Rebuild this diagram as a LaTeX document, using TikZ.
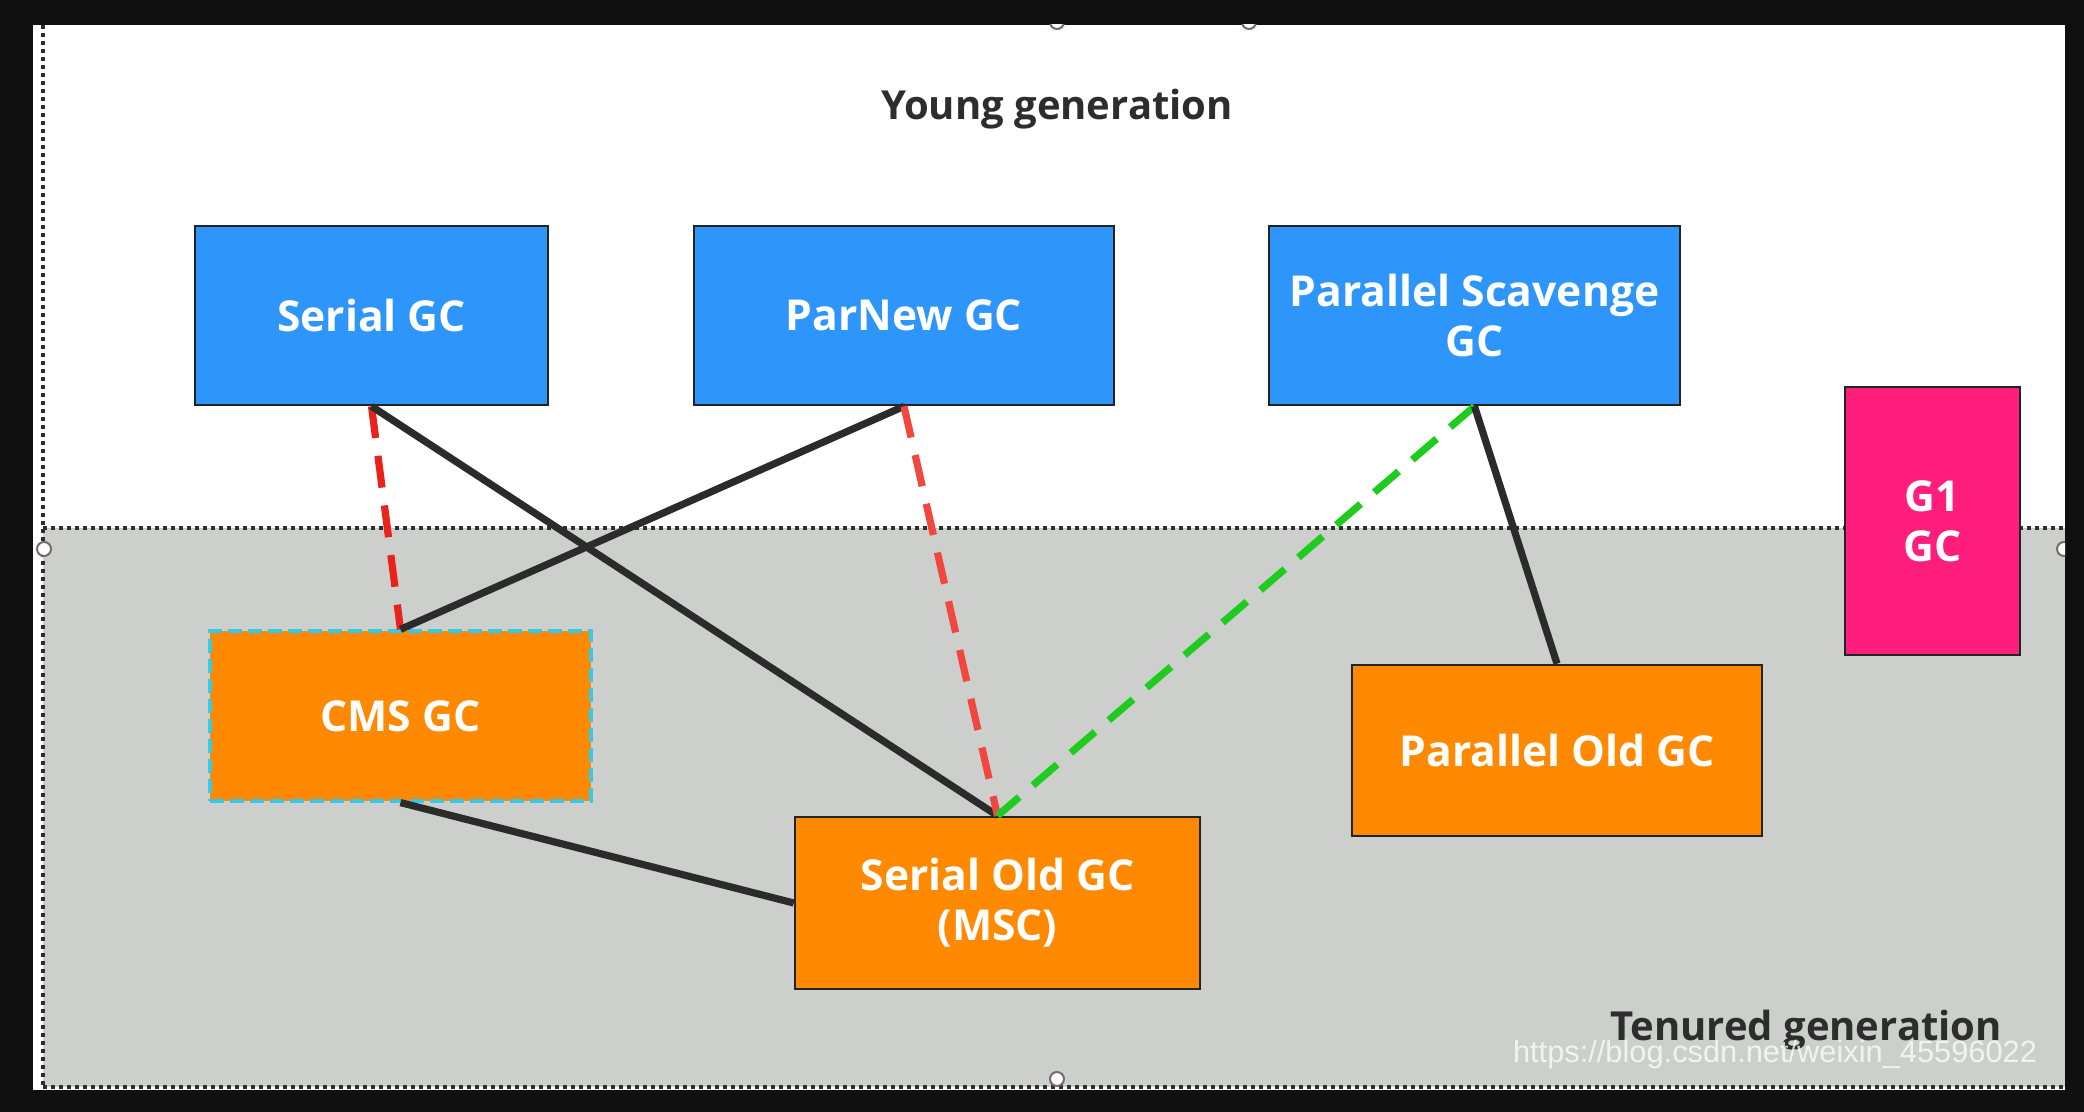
\documentclass[tikz,border=0pt]{standalone}
\usepackage{fontspec}
\setmainfont{Open Sans}
\newfontfamily\wmfont{Liberation Sans}
\definecolor{gcblue}{RGB}{46,150,250}
\definecolor{gcorange}{RGB}{255,137,0}
\definecolor{gcpink}{RGB}{255,30,124}
\definecolor{tenuredgray}{RGB}{205,207,204}
\definecolor{boxline}{RGB}{35,35,35}
\definecolor{linkblack}{RGB}{43,43,43}
\definecolor{linkred}{RGB}{232,35,27}
\definecolor{linkred2}{RGB}{240,72,62}
\definecolor{linkgreen}{RGB}{31,203,31}
\definecolor{cmscyan}{RGB}{56,200,232}
\definecolor{titlegray}{RGB}{45,45,45}
\definecolor{handlegray}{RGB}{120,105,105}
\begin{document}
\begin{tikzpicture}[x=0.5pt,y=-0.5pt,
  gcbox/.style={draw=boxline, line width=1.3pt, rectangle, inner sep=0pt, align=center,
    text=white, font=\bfseries\fontsize{21.3}{25}\selectfont},
  younggc/.style={gcbox, fill=gcblue},
  oldgc/.style={gcbox, fill=gcorange},
  genlabel/.style={font=\bfseries\fontsize{20}{24}\selectfont, text=titlegray, inner sep=0pt},
  dotline/.style={draw=titlegray, line width=1.8pt, dash pattern=on 1.8pt off 2.2pt},
  solidlink/.style={draw=linkblack, line width=3.6pt},
  dashlink/.style={line width=3.6pt, dash pattern=on 16pt off 9pt},
  handle/.style={draw=handlegray, fill=white, line width=1pt, circle, inner sep=0pt, minimum size=7pt}
]
\useasboundingbox (0,0) rectangle (2084,1112);
% frame and panel
\fill[black!94] (0,0) rectangle (2084,1112);
\fill[white] (33,25) rectangle (2065,1090);
\fill[tenuredgray] (43,528) rectangle (2065,1087);
% dotted borders
\draw[dotline] (43,25) -- (43,1087);
\draw[dotline] (43,528) -- (2065,528);
\draw[dotline] (43,1087) -- (2065,1087);
% generation labels
\node[genlabel] (young) at (1057,109) {Young generation};
\node[genlabel] (tenured) at (1806,1030) {Tenured generation};
% boxes
\node[younggc, minimum width=176.5pt, minimum height=89.5pt] (serial) at (371.5,315.5) {Serial GC};
\node[younggc, minimum width=210pt, minimum height=89.5pt] (parnew) at (904,315.5) {ParNew GC};
\node[younggc, minimum width=205.5pt, minimum height=89.5pt] (ps) at (1474.5,315.5) {Parallel Scavenge\\GC};
\node[gcbox, fill=gcpink, minimum width=87.5pt, minimum height=134pt] (g1) at (1932.5,521) {G1\\GC};
\node[oldgc, draw=cmscyan, line width=1.6pt, dash pattern=on 7pt off 3pt, minimum width=190.5pt, minimum height=85pt] (cms) at (400.5,716) {CMS GC};
\node[oldgc, minimum width=202.5pt, minimum height=86pt] (serialold) at (997.5,903) {Serial Old GC\\(MSC)};
\node[oldgc, minimum width=205pt, minimum height=85.5pt] (parold) at (1557,750.5) {Parallel Old GC};
% connectors
\draw[dashlink, draw=linkred] (serial.south) -- (cms.north);
\draw[solidlink] (serial.south) -- (serialold.north);
\draw[solidlink] (parnew.south) -- (cms.north);
\draw[dashlink, draw=linkred2] (parnew.south) -- (serialold.north);
\draw[dashlink, draw=linkgreen] (ps.south) -- (serialold.north);
\draw[solidlink] (ps.south) -- (parold.north);
\draw[solidlink] (cms.south) -- (serialold.west);
% watermark
\node[font=\wmfont\fontsize{15.4}{17}\selectfont, text=white, text opacity=0.75, inner sep=0pt] (wm) at (1775,1055) {https://blog.csdn.net/weixin\_45596022};
% selection handles
\begin{scope}
\clip (33,25) rectangle (2065,1090);
\node[handle] (h1) at (44,549) {};
\node[handle] (h2) at (2064,549) {};
\node[handle] (h3) at (1057,1079) {};
\node[handle] (h4) at (1057,22) {};
\node[handle] (h5) at (1249,22) {};
\end{scope}
\end{tikzpicture}
\end{document}
